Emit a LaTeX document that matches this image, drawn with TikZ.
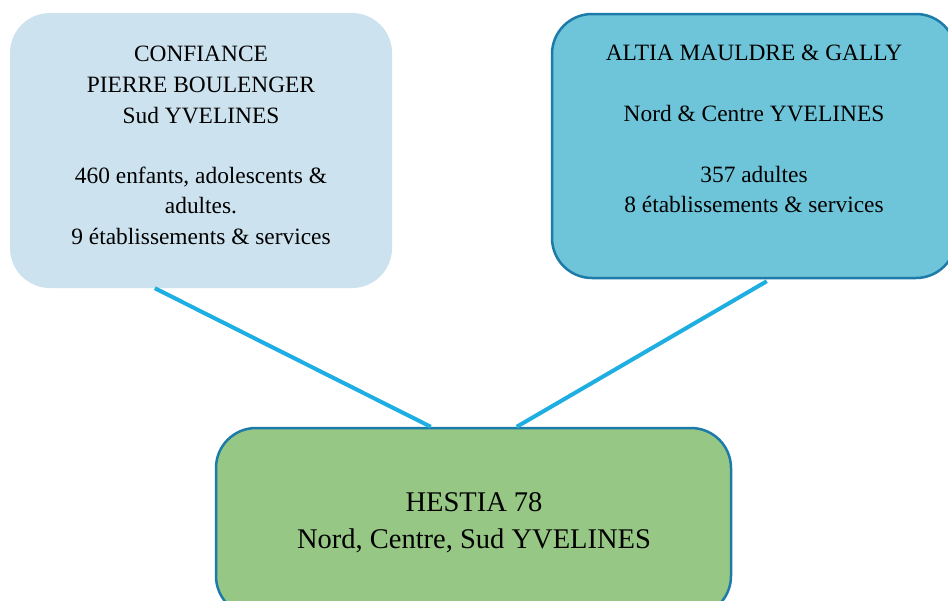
\documentclass[tikz,border=0pt]{standalone}
\usepackage{fontspec}
\setmainfont{LiberationSerif}[Extension=.ttf, UprightFont=*-Regular]
\definecolor{leftfill}{HTML}{CCE2EE}
\definecolor{rightfill}{HTML}{6EC4D8}
\definecolor{greenfill}{HTML}{97C784}
\definecolor{edgeblue}{HTML}{1C7BA8}
\definecolor{linkblue}{HTML}{1EAEE2}
\tikzset{
  boxshape/.style={rectangle, rounded corners=40pt, inner sep=0pt},
  txt/.style={anchor=base, inner sep=0pt, font=\fontsize{23.4}{30}\selectfont},
  bigtxt/.style={anchor=base, inner sep=0pt, font=\fontsize{28.5}{37}\selectfont},
  link/.style={draw=linkblue, line width=4pt}
}
\begin{document}
\begin{tikzpicture}[x=1pt,y=-1pt]
\useasboundingbox (0,0) rectangle (948,600);
\clip (0,0) rectangle (948,600);
\fill[white] (0,0) rectangle (948,600);
% boxes
\node[boxshape, fill=leftfill, minimum width=382pt, minimum height=275pt] (left) at (201,150.5) {};
\node[boxshape, fill=rightfill, draw=edgeblue, line width=2.5pt, minimum width=404pt, minimum height=264pt] (right) at (754,146) {};
\node[boxshape, fill=greenfill, draw=edgeblue, line width=2.5pt, minimum width=515pt, minimum height=188pt] (bottom) at (473.5,522) {};
% connectors
\draw[link] ([xshift=145pt]left.south west) -- ([xshift=216pt]bottom.north west);
\draw[link] ([xshift=216pt,yshift=-2pt]right.south west) -- ([xshift=302pt]bottom.north west);
% left text
\node[txt] (l1) at (201,61.7) {CONFIANCE};
\node[txt] (l2) at (201,92.5) {PIERRE BOULENGER};
\node[txt] (l3) at (201,123) {Sud YVELINES};
\node[txt] (l4) at (201,183) {460 enfants, adolescents \&};
\node[txt] (l5) at (201,213.5) {adultes.};
\node[txt] (l6) at (201,244) {9 établissements \& services};
% right text
\node[txt] (r1) at (754,60) {ALTIA MAULDRE \& GALLY};
\node[txt] (r2) at (754,121) {Nord \& Centre YVELINES};
\node[txt] (r3) at (754,182) {357 adultes};
\node[txt] (r4) at (754,212.5) {8 établissements \& services};
% bottom text
\node[bigtxt] (b1) at (474,511) {HESTIA 78};
\node[bigtxt] (b2) at (474,548) {Nord, Centre, Sud YVELINES};
\end{tikzpicture}
\end{document}
